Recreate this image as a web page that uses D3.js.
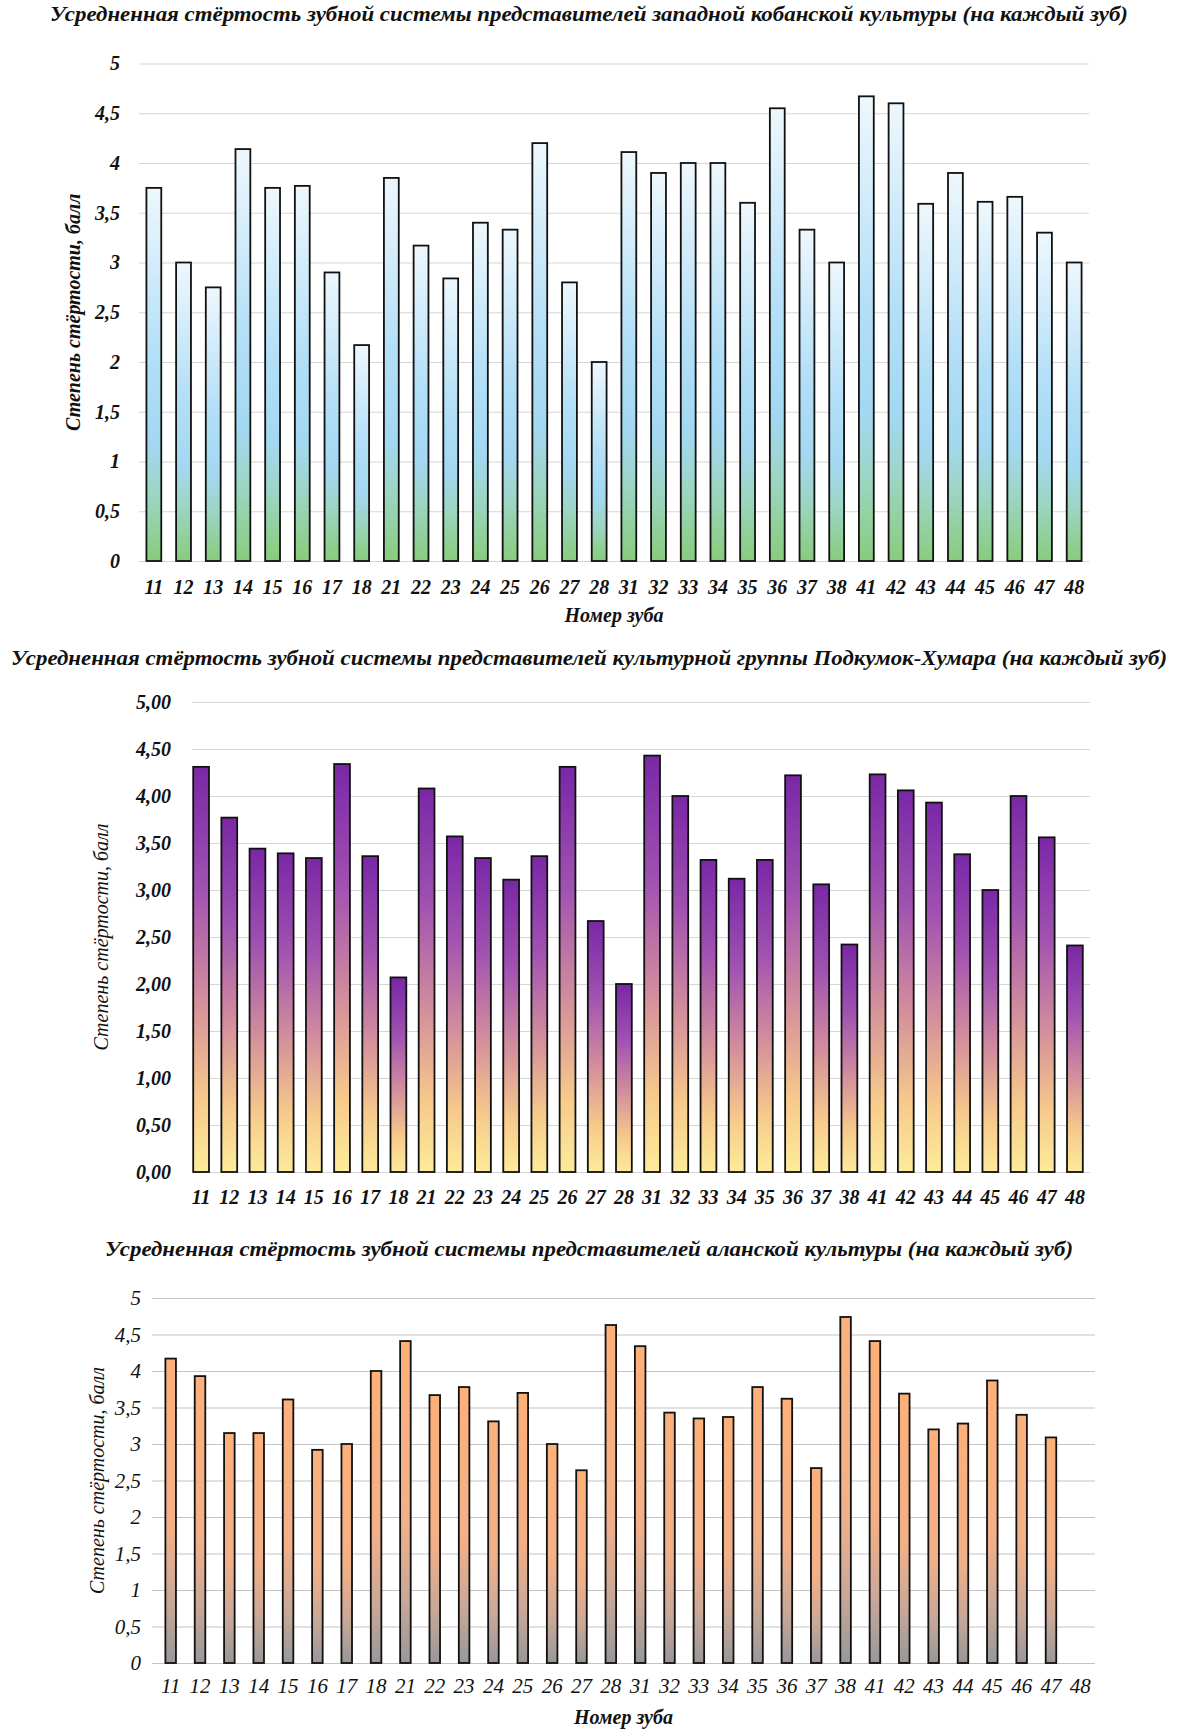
<!DOCTYPE html>
<html>
<head>
<meta charset="utf-8">
<script src="https://cdn.jsdelivr.net/npm/d3@7"></script>
<style>
  body { margin: 0; background: #fff; }
  svg { display: block; font-family: "Liberation Serif", "DejaVu Serif", serif; }
</style>
</head>
<body>
<div id="chart"></div>
<script>
const W = 1180, H = 1731

// tooth numbers (same for all three charts)
const teeth = ["11","12","13","14","15","16","17","18","21","22","23","24","25","26","27","28",
               "31","32","33","34","35","36","37","38","41","42","43","44","45","46","47","48"]

// average wear per tooth
const kobanWear = [3.75,3.0,2.75,4.14,3.75,3.77,2.9,2.17,3.85,3.17,2.84,3.4,3.33,4.2,2.8,2.0,
                   4.11,3.9,4.0,4.0,3.6,4.55,3.33,3.0,4.67,4.6,3.59,3.9,3.61,3.66,3.3,3.0]
const podkumokWear = [4.31,3.77,3.44,3.39,3.34,4.34,3.36,2.07,4.08,3.57,3.34,3.11,3.36,4.31,2.67,2.0,
                      4.43,4.0,3.32,3.12,3.32,4.22,3.06,2.42,4.23,4.06,3.93,3.38,3.0,4.0,3.56,2.41]
const alanWear = [4.17,3.93,3.15,3.15,3.61,2.92,3.0,4.0,4.41,3.67,3.78,3.31,3.7,3.0,2.64,4.63,
                  4.34,3.43,3.35,3.37,3.78,3.62,2.67,4.74,4.41,3.69,3.2,3.28,3.87,3.4,3.09,null]

const yTicks = [0,0.5,1,1.5,2,2.5,3,3.5,4,4.5,5]

const titles = [
  "Усредненная стёртость зубной системы представителей западной кобанской культуры (на каждый зуб)",
  "Усредненная стёртость зубной системы представителей культурной группы Подкумок-Хумара (на каждый зуб)",
  "Усредненная стёртость зубной системы представителей аланской культуры (на каждый зуб)"
]
const yTitle = "Степень стёртости, балл"
const xTitle = "Номер зуба"

const svg = d3.select("#chart").append("svg")
  .attr("width", W).attr("height", H)
  .attr("viewBox", [0, 0, W, H])

svg.append("rect").attr("width", W).attr("height", H).attr("fill", "#fff")

const defs = svg.append("defs")
function gradient(id, stops) {
  const g = defs.append("linearGradient").attr("id", id)
    .attr("x1", 0).attr("y1", 0).attr("x2", 0).attr("y2", 1)
  stops.forEach(s => g.append("stop").attr("offset", s[0]).attr("stop-color", s[1]))
}
gradient("gBlue", [[0, "#eef7fd"], [0.45, "#b3dff7"], [0.68, "#a3d8f2"], [0.82, "#9dd5c4"], [1, "#88cc7c"]])
gradient("gPurple", [[0, "#7a27a6"], [0.3, "#a052b1"], [0.58, "#d38f9c"], [0.82, "#f7ca8b"], [1, "#fdeb9a"]])
gradient("gPeach", [[0, "#fdb07a"], [0.55, "#f3b088"], [0.8, "#c9a899"], [1, "#989898"]])

const charts = [
  { values: kobanWear, title: titles[0], titleX: 589, titleY: 21, titleLen: 1078,
    band: [139, 1089], grid: [139, 1089], top: 63.5, bottom: 561, pad: 0.5,
    fill: "url(#gBlue)", fmt: d => String(d).replace(".", ","), tickPad: 19,
    tickWeight: "bold", tickSize: 20, xLabelY: 594, yTitleX: 73, yTitleWeight: "bold",
    xTitleY: 622, gridColor: "#d6d6d6" },
  { values: podkumokWear, title: titles[1], titleX: 589, titleY: 665, titleLen: 1156,
    band: [187, 1089], grid: [192, 1090], top: 702, bottom: 1172, pad: 0.44,
    fill: "url(#gPurple)", fmt: d => d.toFixed(2).replace(".", ","), tickPad: 21,
    tickWeight: "bold", tickSize: 20, xLabelY: 1204, yTitleX: 101, yTitleWeight: "normal",
    xTitleY: null, gridColor: "#d6d6d6" },
  { values: alanWear, title: titles[2], titleX: 589, titleY: 1256, titleLen: 968,
    band: [156, 1095], grid: [152, 1095], top: 1298, bottom: 1663, pad: 0.64,
    fill: "url(#gPeach)", fmt: d => String(d).replace(".", ","), tickPad: 11,
    tickWeight: "normal", tickSize: 21, xLabelY: 1693, yTitleX: 97, yTitleWeight: "normal",
    xTitleY: 1724, gridColor: "#c4c4c4" }
]

charts.forEach(c => {
  const g = svg.append("g")

  const x = d3.scaleBand().domain(teeth).range(c.band)
    .paddingInner(c.pad).paddingOuter(c.pad / 2)
  const y = d3.scaleLinear().domain([0, 5]).range([c.bottom, c.top])

  // gridlines + y tick labels
  const yAxis = g.append("g")
    .attr("transform", `translate(${c.grid[0]},0)`)
    .call(d3.axisLeft(y).tickValues(yTicks).tickFormat(c.fmt)
      .tickSize(-(c.grid[1] - c.grid[0])).tickPadding(c.tickPad))
  yAxis.select(".domain").remove()
  yAxis.selectAll(".tick line").attr("stroke", c.gridColor).attr("stroke-width", 1.2)
  yAxis.selectAll(".tick text")
    .attr("font-family", "Liberation Serif").attr("font-style", "italic")
    .attr("font-weight", c.tickWeight).attr("font-size", c.tickSize).attr("fill", "#111")

  // bars
  g.selectAll("rect.bar")
    .data(teeth.map((t, i) => ({ t, v: c.values[i] })).filter(d => d.v != null))
    .join("rect")
    .attr("class", "bar")
    .attr("x", d => x(d.t))
    .attr("y", d => y(d.v))
    .attr("width", x.bandwidth())
    .attr("height", d => y(0) - y(d.v))
    .attr("fill", c.fill)
    .attr("stroke", "#111")
    .attr("stroke-width", 1.8)

  // x tick labels
  g.selectAll("text.xl")
    .data(teeth)
    .join("text")
    .attr("class", "xl")
    .attr("x", d => x(d) + x.bandwidth() / 2)
    .attr("y", c.xLabelY)
    .attr("text-anchor", "middle")
    .attr("font-style", "italic").attr("font-weight", c.tickWeight)
    .attr("font-size", c.tickSize).attr("fill", "#111")
    .text(d => d)

  // title
  g.append("text")
    .attr("x", c.titleX).attr("y", c.titleY)
    .attr("text-anchor", "middle")
    .attr("font-style", "italic").attr("font-weight", "bold")
    .attr("font-size", 20).attr("fill", "#111")
    .attr("textLength", c.titleLen).attr("lengthAdjust", "spacingAndGlyphs")
    .text(c.title)

  // y title
  g.append("text")
    .attr("transform", `translate(${c.yTitleX},${(c.top + c.bottom) / 2}) rotate(-90)`)
    .attr("text-anchor", "middle").attr("dy", "0.35em")
    .attr("font-style", "italic").attr("font-weight", c.yTitleWeight)
    .attr("font-size", 20).attr("fill", "#111")
    .text(yTitle)

  // x title
  if (c.xTitleY) {
    g.append("text")
      .attr("x", (c.grid[0] + c.grid[1]) / 2).attr("y", c.xTitleY)
      .attr("text-anchor", "middle")
      .attr("font-style", "italic").attr("font-weight", "bold")
      .attr("font-size", 20).attr("fill", "#111")
      .text(xTitle)
  }
})
</script>
</body>
</html>
